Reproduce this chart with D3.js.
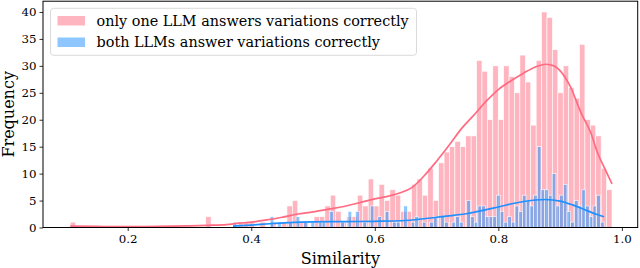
<!DOCTYPE html>
<html>
<head>
<meta charset="utf-8">
<script src="https://cdn.jsdelivr.net/npm/d3@7"></script>
<style>
  body { margin: 0; background: white; }
  text { font-family: 'DejaVu Serif', serif; }
</style>
</head>
<body>
<script>
const svg_width = 640;
const svg_height = 268;
const margin = {left: 43, right: 2.3, top: 1.2, bottom: 40.5};

// histogram counts, 100 bins each
const one_range = [0.107, 0.984];
const one_counts = [
    1, 0, 0, 0, 0, 0, 0, 0, 0, 0,
    0, 0, 0, 0, 0, 0, 0, 0, 0, 0,
    0, 0, 0, 0, 0, 2, 0, 0, 0, 0,
    0, 1, 1, 1, 0, 1, 0, 1, 0, 1,
    4, 5, 1, 1, 0, 2, 2, 4, 6, 3,
    1, 2, 2, 6, 4, 9, 4, 8, 5, 7,
    6, 3, 3, 8, 9, 6, 11, 5, 12, 14,
    15, 16, 15, 17, 17, 31, 29, 20, 30, 20,
    30, 28, 25, 32, 27, 19, 31, 40, 39, 33,
    25, 30, 26, 24, 34, 20, 19, 17, 11, 7
];
const both_range = [0.3705, 0.9712];
const both_counts = [
    1, 0, 0, 0, 0, 0, 0, 0, 0, 0,
    2, 0, 1, 0, 0, 1, 0, 2, 0, 1,
    0, 1, 0, 1, 1, 0, 3, 0, 0, 1,
    0, 3, 0, 3, 0, 1, 0, 4, 0, 2,
    0, 3, 0, 1, 1, 0, 4, 0, 1, 2,
    0, 1, 0, 1, 2, 0, 2, 1, 0, 1,
    2, 1, 0, 5, 2, 1, 4, 4, 2, 2,
    2, 6, 3, 1, 2, 1, 4, 3, 6, 5,
    4, 6, 15, 7, 7, 6, 10, 4, 6, 8,
    3, 1, 5, 4, 7, 4, 2, 4, 6, 1
];

// kde curves (similarity, frequency)
const one_kde_x = [0.107, 0.15, 0.2, 0.25, 0.3, 0.33, 0.36, 0.38, 0.4, 0.425, 0.45, 0.475, 0.5, 0.525, 0.55, 0.575, 0.6, 0.625, 0.64, 0.66, 0.68, 0.7, 0.72, 0.74, 0.76, 0.78, 0.8, 0.82, 0.84, 0.86, 0.877, 0.89, 0.915, 0.935, 0.95, 0.96, 0.97, 0.984];
const one_kde_y = [0.25, 0.2, 0.15, 0.2, 0.3, 0.4, 0.55, 0.8, 1.0, 1.4, 1.9, 2.5, 2.9, 3.4, 3.9, 4.6, 5.3, 5.9, 6.4, 7.4, 9.6, 12.3, 15.2, 18.3, 20.8, 23.4, 25.6, 27.2, 28.6, 29.8, 30.3, 30.0, 26.5, 21.0, 17.5, 14.0, 11.5, 8.1];
const both_kde_x = [0.3705, 0.4, 0.43, 0.46, 0.5, 0.55, 0.6, 0.65, 0.7, 0.75, 0.8, 0.83, 0.86, 0.876, 0.9, 0.92, 0.94, 0.96, 0.9712];
const both_kde_y = [0.25, 0.45, 0.7, 0.9, 1.05, 1.1, 1.15, 1.3, 1.9, 2.6, 3.8, 4.6, 5.1, 5.2, 4.9, 4.2, 3.3, 2.4, 2.0];

const x_ticks = [0.2, 0.4, 0.6, 0.8, 1.0];
const y_ticks = [0, 5, 10, 15, 20, 25, 30, 35, 40];
const legend_labels = ['only one LLM answers variations correctly', 'both LLMs answer variations correctly'];

const pink = '#ff6b81';
const blue = '#1e90ff';

const svg = d3.select('body')
    .append('svg')
    .attr('width', svg_width)
    .attr('height', svg_height);

const x = d3.scaleLinear()
    .domain([0.0629, 1.0256])
    .range([margin.left, svg_width - margin.right]);
const y = d3.scaleLinear()
    .domain([0, 42])
    .range([svg_height - margin.bottom, margin.top]);

function make_bins(range, counts) {
    const w = (range[1] - range[0]) / counts.length;
    return counts.map((c, i) => ({x0: range[0] + i * w, x1: range[0] + (i + 1) * w, c: c}));
}

const draw_bars = (bins, color) => {
    svg.append('g')
        .selectAll('rect')
        .data(bins.filter(d => d.c > 0))
        .enter()
        .append('rect')
        .attr('x', d => x(d.x0))
        .attr('y', d => y(d.c))
        .attr('width', d => x(d.x1) - x(d.x0))
        .attr('height', d => y(0) - y(d.c))
        .attr('fill', color)
        .attr('fill-opacity', 0.5)
        .attr('stroke', 'white')
        .attr('stroke-width', 0.6);
};

draw_bars(make_bins(one_range, one_counts), pink);
draw_bars(make_bins(both_range, both_counts), blue);

const line = d3.line()
    .curve(d3.curveMonotoneX)
    .x(d => x(d[0]))
    .y(d => y(d[1]));

svg.append('path')
    .attr('d', line(one_kde_x.map((v, i) => [v, one_kde_y[i]])))
    .attr('fill', 'none')
    .attr('stroke', pink)
    .attr('stroke-width', 1.7);
svg.append('path')
    .attr('d', line(both_kde_x.map((v, i) => [v, both_kde_y[i]])))
    .attr('fill', 'none')
    .attr('stroke', blue)
    .attr('stroke-width', 1.7);

// axes
const x_axis = svg.append('g')
    .attr('transform', `translate(0, ${y(0)})`)
    .call(d3.axisBottom(x).tickValues(x_ticks).tickFormat(d3.format('.1f')).tickSize(3.5).tickPadding(4));
const y_axis = svg.append('g')
    .attr('transform', `translate(${margin.left}, 0)`)
    .call(d3.axisLeft(y).tickValues(y_ticks).tickSize(3.5).tickPadding(3));
[x_axis, y_axis].forEach(a => {
    a.select('.domain').remove();
    a.selectAll('text').attr('font-size', 11.8).attr('font-family', 'DejaVu Serif').attr('fill', 'black');
    a.selectAll('line').attr('stroke', 'black').attr('stroke-width', 0.8);
});

svg.append('rect')
    .attr('x', margin.left)
    .attr('y', margin.top)
    .attr('width', svg_width - margin.left - margin.right)
    .attr('height', y(0) - margin.top)
    .attr('fill', 'none')
    .attr('stroke', 'black')
    .attr('stroke-width', 1);

svg.append('text')
    .attr('x', (margin.left + svg_width - margin.right) / 2)
    .attr('y', 264)
    .attr('text-anchor', 'middle')
    .attr('font-size', 16)
    .text('Similarity');
svg.append('text')
    .attr('transform', `translate(13.5, ${(margin.top + y(0)) / 2}) rotate(-90)`)
    .attr('text-anchor', 'middle')
    .attr('font-size', 16)
    .text('Frequency');

// legend
const legend = svg.append('g');
legend.append('rect')
    .attr('x', 50.5)
    .attr('y', 8.3)
    .attr('width', 366)
    .attr('height', 47)
    .attr('rx', 3)
    .attr('fill', 'white')
    .attr('fill-opacity', 0.8)
    .attr('stroke', '#d0d0d0')
    .attr('stroke-width', 0.8);
legend.selectAll('.item')
    .data(legend_labels)
    .enter()
    .append('g')
    .attr('transform', (d, i) => `translate(57.5, ${16 + i * 21.5})`)
    .each(function (d, i) {
        const g = d3.select(this);
        g.append('rect')
            .attr('width', 27.5)
            .attr('height', 9.5)
            .attr('fill', i === 0 ? pink : blue)
            .attr('fill-opacity', 0.5);
        g.append('text')
            .attr('x', 39)
            .attr('y', 9.5)
            .attr('font-size', 14.4)
            .text(d);
    });
</script>
</body>
</html>
